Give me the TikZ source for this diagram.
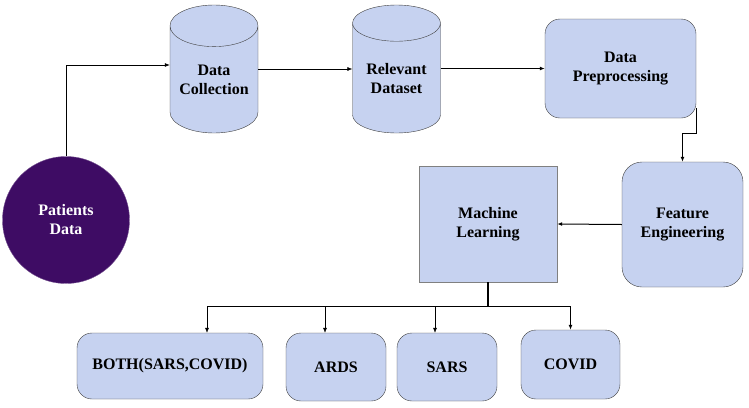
\documentclass[tikz,border=0pt]{standalone}
\usepackage{fontspec}
\setmainfont{Liberation Serif}
\usetikzlibrary{shapes.geometric,arrows.meta}
\definecolor{boxfill}{RGB}{198,210,240}
\definecolor{patientfill}{RGB}{62,12,100}

\begin{document}
\begin{tikzpicture}[x=1pt,y=-1pt,
  lbl/.style={font=\fontsize{16}{19}\selectfont\bfseries, align=center},
  dbase/.style={lbl, cylinder, shape border rotate=90, aspect=0.6, draw=darkgray, fill=boxfill, minimum width=88pt, minimum height=128pt, inner sep=0pt, anchor=shape center},
  rbox/.style={lbl, draw=darkgray, fill=boxfill, rounded corners=15pt, inner sep=0pt},
  flow/.style={-{Latex[length=5pt,width=4pt]}, black, line width=0.7pt}]
  \useasboundingbox (0,0) rectangle (749,407);
  % top row
  \node[dbase] (collect) at (214,69) {Data\\Collection};
  \node[dbase] (dataset) at (396.5,69) {Relevant\\Dataset};
  \node[rbox, minimum width=151pt, minimum height=99pt] (prep) at (620.5,68.5) {Data\\Preprocessing};
  % middle row
  \node[circle, fill=patientfill, draw=patientfill!70!white, minimum size=127pt, text=white, lbl] (patients) at (66,220) {Patients\\Data};
  \node[lbl, draw=gray, fill=boxfill, minimum width=138pt, minimum height=116pt] (learn) at (488,224) {Machine\\Learning};
  \node[rbox, rounded corners=20pt, minimum width=121pt, minimum height=125pt] (feature) at (682.5,224.5) {Feature\\Engineering};
  % outputs
  \node[rbox, minimum width=186pt, minimum height=66pt] (both) at (170,366) {BOTH(SARS,COVID)};
  \node[rbox, minimum width=100pt, minimum height=68pt] (ards) at (336,367) {ARDS};
  \node[rbox, minimum width=100pt, minimum height=68pt] (sars) at (447,367) {SARS};
  \node[rbox, minimum width=99pt, minimum height=69pt] (covid) at (570.5,364.5) {COVID};
  % connectors
  \draw[flow] (patients.north) |- ([yshift=4pt]collect.west |- collect.shape center);
  \draw[flow, line width=0.5pt] (collect.east |- collect.shape center) -- (dataset.west |- collect.shape center);
  \draw[flow, line width=1pt] (dataset.east |- prep.west) -- (prep.west);
  \draw[flow, line width=1pt] ([yshift=10pt]prep.south east) -- ++(0,25) -| (feature.north);
  \draw[flow, line width=1pt] (feature.west) -- (learn.east);
  \coordinate (split) at ([yshift=-24pt]learn.south);
  \draw[line width=1.2pt] (learn.south) -- (split);
  \draw[flow, line width=1.2pt] (split) -| (covid.north);
  \draw[flow, line width=0.5pt] (split) -| ([xshift=37pt]both.north);
  \draw[flow, line width=0.5pt] (split) -| ([xshift=-11pt]ards.north);
  \draw[flow, line width=0.5pt] (split) -| ([xshift=-12pt]sars.north);
\end{tikzpicture}
\end{document}
